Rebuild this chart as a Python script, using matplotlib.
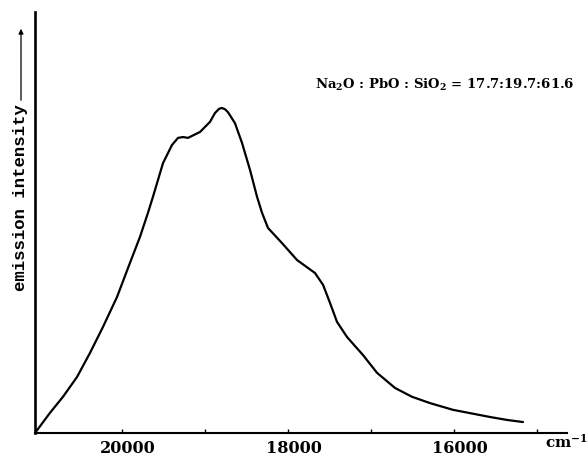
import matplotlib

matplotlib.use("Agg")

import matplotlib.pyplot as plt
import matplotlib.transforms as mtransforms
from matplotlib.patches import FancyArrowPatch

# emission spectrum (wavenumber in cm^-1, intensity in arbitrary units)
wavenumber = [21048, 20867, 20711, 20542, 20386, 20229, 20060, 19904, 19783, 19687,
              19627, 19506, 19398, 19325, 19265, 19205, 19060, 18940, 18880, 18831,
              18795, 18759, 18723, 18639, 18554, 18458, 18373, 18313, 18241, 18072,
              17892, 17675, 17578, 17494, 17410, 17289, 17096, 16928, 16711, 16506,
              16289, 16012, 15566, 15361, 15169]
intensity = [0.0, 4.8, 8.6, 13.3, 19.0, 25.2, 32.3, 40.4, 46.6, 52.3,
             56.1, 64.1, 68.4, 70.1, 70.3, 70.1, 71.5, 73.9, 76.0, 77.0,
             77.2, 76.9, 76.2, 73.6, 68.9, 62.5, 56.1, 52.3, 48.7, 45.1,
             41.1, 38.0, 35.2, 30.9, 26.4, 22.8, 18.5, 14.3, 10.7, 8.6,
             7.1, 5.5, 3.8, 3.1, 2.6]

tick_positions = [20000, 19000, 18000, 17000, 16000, 15000]
tick_labels = ["20000", "", "18000", "", "16000", ""]
composition = r"Na$_2$O : PbO : SiO$_2$ = 17.7:19.7:61.6"

plt.rcParams.update({
    "font.family": "DejaVu Serif",
    "font.weight": "bold",
    "mathtext.fontset": "dejavuserif",
    "mathtext.default": "bf",
})

W, H = 588, 459
fig = plt.figure(figsize=(W / 100, H / 100), dpi=100)
fig.patch.set_facecolor("white")

left, right, top, bottom = 35, 567, 12, 433
ax = fig.add_axes([left / W, 1 - bottom / H, (right - left) / W, (bottom - top) / H])

ax.plot(wavenumber, intensity, color="black", linewidth=1.6,
        solid_capstyle="round", solid_joinstyle="round")

ax.set_xlim(21048, 14639)
ax.set_ylim(0, 100)

ax.spines["top"].set_visible(False)
ax.spines["right"].set_visible(False)
ax.spines["left"].set_linewidth(1.9)
ax.spines["bottom"].set_linewidth(1.5)

ax.set_yticks([])
ax.set_xticks(tick_positions)
ax.set_xticklabels(tick_labels)
ax.tick_params(axis="x", direction="in", length=3, width=1, pad=5, labelsize=11.5)

# labels in the scan sit a little right of their tick marks
shift = mtransforms.ScaledTranslation(6 / 100, 0, fig.dpi_scale_trans)
for lab in ax.get_xticklabels():
    lab.set_transform(lab.get_transform() + shift)

fig.text(545 / W, 1 - 442 / H, r"cm$^{-1}$", fontsize=11, ha="left", va="center")

fig.text(20 / W, 1 - 198 / H, "emission intensity", rotation=90,
         family="Liberation Mono", fontweight="bold",
         fontsize=12.5, ha="center", va="center")
fig.add_artist(FancyArrowPatch(
    (21 / W, 1 - 103 / H), (21 / W, 1 - 26 / H),
    transform=fig.transFigure, arrowstyle="-|>", mutation_scale=7,
    color="black", linewidth=0.9))

fig.text(315 / W, 1 - 85 / H, composition, fontsize=9.5, ha="left", va="center")

fig.savefig("out.png", dpi=100)
